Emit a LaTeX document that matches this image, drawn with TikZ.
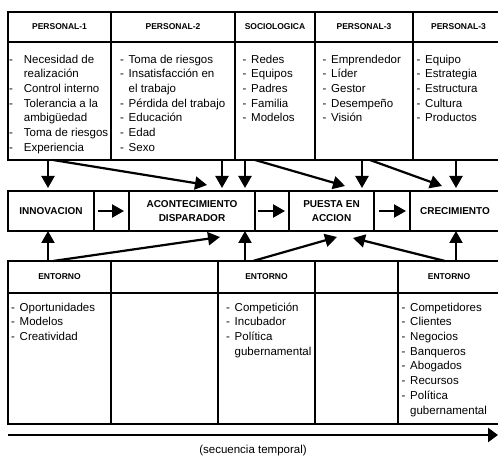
\documentclass[tikz,border=0pt]{standalone}
\usepackage{fontspec}
\setmainfont{Liberation Sans}
\usetikzlibrary{arrows.meta}

\newcommand{\itm}[1][8.5pt]{\rule{0pt}{11pt}\makebox[#1][l]{-}}
\newcommand{\cnt}[1][8.5pt]{\rule{0pt}{11pt}\hspace*{#1}}

\begin{document}
\begin{tikzpicture}[x=1pt, y=1pt,
	cell/.style={draw, line width=1.4pt, inner sep=0pt, outer sep=0pt},
	head/.style={cell, font=\fontsize{8.5}{10}\selectfont\bfseries},
	stage/.style={cell, align=center, font=\fontsize{10}{13.5}\selectfont\bfseries},
	items/.style={anchor=north west, inner sep=0pt, align=left, font=\fontsize{11.5}{14.7}\selectfont},
	flow/.style={line width=2.2pt, -{Triangle[length=12pt,width=13pt]}}]
	\useasboundingbox (0,0) rectangle (498,457);

		% top row
		\draw (59.5,430) node[head, minimum width=103pt, minimum height=30pt] (head1) {PERSONAL-1};
		\draw (173,430) node[head, minimum width=124pt, minimum height=30pt] (head2) {PERSONAL-2};
		\draw (275,430) node[head, minimum width=80pt, minimum height=30pt] (head3) {SOCIOLOGICA};
		\draw (364,430) node[head, minimum width=98pt, minimum height=30pt] (head4) {PERSONAL-3};
		\draw (458.5,430) node[head, minimum width=91pt, minimum height=30pt] (head5) {PERSONAL-3};

		\draw (59.5,356) node[cell, minimum width=103pt, minimum height=118pt] (list1) {};
		\draw (173,356) node[cell, minimum width=124pt, minimum height=118pt] (list2) {};
		\draw (275,356) node[cell, minimum width=80pt, minimum height=118pt] (list3) {};
		\draw (364,356) node[cell, minimum width=98pt, minimum height=118pt] (list4) {};
		\draw (458.5,356) node[cell, minimum width=91pt, minimum height=118pt] (list5) {};

		\node[items] (txt1) at ([xshift=1pt,yshift=-10pt]list1.north west) {\itm[11.5pt] Necesidad de\\ \cnt[11.5pt] realización\\ \itm[11.5pt] Control interno\\ \itm[11.5pt] Tolerancia a la\\ \cnt[11.5pt] ambigüedad\\ \itm[11.5pt] Toma de riesgos\\ \itm[11.5pt] Experiencia};
		\node[items] (txt2) at ([xshift=9pt,yshift=-10pt]list2.north west) {\itm Toma de riesgos\\ \itm Insatisfacción en\\ \cnt el trabajo\\ \itm Pérdida del trabajo\\ \itm Educación\\ \itm Edad\\ \itm Sexo};
		\node[items] (txt3) at ([xshift=7.5pt,yshift=-10pt]list3.north west) {\itm Redes\\ \itm Equipos\\ \itm Padres\\ \itm Familia\\ \itm Modelos};
		\node[items] (txt4) at ([xshift=7.5pt,yshift=-10pt]list4.north west) {\itm Emprendedor\\ \itm Líder\\ \itm Gestor\\ \itm Desempeño\\ \itm Visión};
		\node[items] (txt5) at ([xshift=3.5pt,yshift=-10pt]list5.north west) {\itm Equipo\\ \itm Estrategia\\ \itm Estructura\\ \itm Cultura\\ \itm Productos};

		% middle row
		\draw (51,246) node[stage, minimum width=86pt, minimum height=40pt] (innov) {INNOVACION};
		\draw (192,246) node[stage, minimum width=126pt, minimum height=40pt] (disp) {ACONTECIMIENTO\\DISPARADOR};
		\draw (331.5,246) node[stage, minimum width=85pt, minimum height=40pt] (accion) {PUESTA EN\\ACCION};
		\draw (455,246) node[stage, minimum width=90pt, minimum height=40pt] (crec) {CRECIMIENTO};
		\draw [line width=1.4pt] (innov.north west) -- (crec.north east);
		\draw [line width=1.4pt] (innov.south west) -- (crec.south east);

		\draw [flow, shorten <=4pt, shorten >=5pt] (innov) -- (disp);
		\draw [flow, shorten <=3pt, shorten >=4pt] (disp) -- (accion);
		\draw [flow, shorten <=5pt, shorten >=4pt] (accion) -- (crec);

		% bottom row
		\draw (59.5,180) node[head, minimum width=103pt, minimum height=32pt] (env1) {ENTORNO};
		\draw (164.5,180) node[head, minimum width=107pt, minimum height=32pt] (env2) {};
		\draw (266.5,180) node[head, minimum width=97pt, minimum height=32pt] (env3) {ENTORNO};
		\draw (356.5,180) node[head, minimum width=83pt, minimum height=32pt] (env4) {};
		\draw (449,180) node[head, minimum width=102pt, minimum height=32pt] (env5) {ENTORNO};

		\draw (59.5,98.5) node[cell, minimum width=103pt, minimum height=131pt] (fact1) {};
		\draw (164.5,98.5) node[cell, minimum width=107pt, minimum height=131pt] (fact2) {};
		\draw (266.5,98.5) node[cell, minimum width=97pt, minimum height=131pt] (fact3) {};
		\draw (356.5,98.5) node[cell, minimum width=83pt, minimum height=131pt] (fact4) {};
		\draw (449,98.5) node[cell, minimum width=102pt, minimum height=131pt] (fact5) {};

		\node[items] (txt6) at ([xshift=3pt,yshift=-7pt]fact1.north west) {\itm Oportunidades\\ \itm Modelos\\ \itm Creatividad};
		\node[items] (txt7) at ([xshift=8pt,yshift=-7pt]fact3.north west) {\itm Competición\\ \itm Incubador\\ \itm Política\\ \cnt gubernamental};
		\node[items] (txt8) at ([xshift=3.5pt,yshift=-7pt]fact5.north west) {\itm Competidores\\ \itm Clientes\\ \itm Negocios\\ \itm Banqueros\\ \itm Abogados\\ \itm Recursos\\ \itm Política\\ \cnt gubernamental};

		% arrows from the top row
		\draw [flow, shorten >=3pt] ([xshift=40pt]list1.south west) -- ([xshift=40pt]innov.north west);
		\draw [flow] ([xshift=45pt]list1.south west) -- ([xshift=78pt,yshift=6pt]disp.north west);
		\draw [flow, shorten >=3pt] ([xshift=111pt]list2.south west) -- ([xshift=93pt]disp.north west);
		\draw [flow, shorten >=3pt] ([xshift=10pt]list3.south west) -- ([xshift=116pt]disp.north west);
		\draw [flow] ([xshift=20pt]list3.south west) -- ([xshift=56pt,yshift=5pt]accion.north west);
		\draw [flow, shorten >=3pt] ([xshift=47pt]list4.south west) -- ([xshift=73pt]accion.north west);
		\draw [flow] ([xshift=55pt]list4.south west) -- ([xshift=32pt,yshift=5pt]crec.north west);
		\draw [flow, shorten >=3pt] ([xshift=43pt]list5.south west) -- ([xshift=46pt]crec.north west);

		% arrows from the bottom row
		\draw [flow] ([xshift=40pt]env1.north west) -- ([xshift=40pt]innov.south west);
		\draw [flow] ([xshift=45pt]env1.north west) -- ([xshift=91pt,yshift=-6pt]disp.south west);
		\draw [flow] ([xshift=27pt]env3.north west) -- ([xshift=116pt]disp.south west);
		\draw [flow] ([xshift=35pt]env3.north west) -- ([xshift=48pt,yshift=-6pt]accion.south west);
		\draw [flow] ([xshift=47pt]env5.north west) -- ([xshift=64pt,yshift=-7pt]accion.south west);
		\draw [flow] ([xshift=58pt]env5.north west) -- ([xshift=46pt]crec.south west);

		% time line
		\coordinate (t0) at (8,22);
		\coordinate (t1) at (498,22);
		\draw [line width=2.8pt, -{Triangle[length=10pt,width=14pt]}] (t0) -- (t1);
		\node[anchor=base, inner sep=0pt, font=\fontsize{11.5}{13}\selectfont] (seq) at (253,3) {(secuencia temporal)};
	\end{tikzpicture}
\end{document}
